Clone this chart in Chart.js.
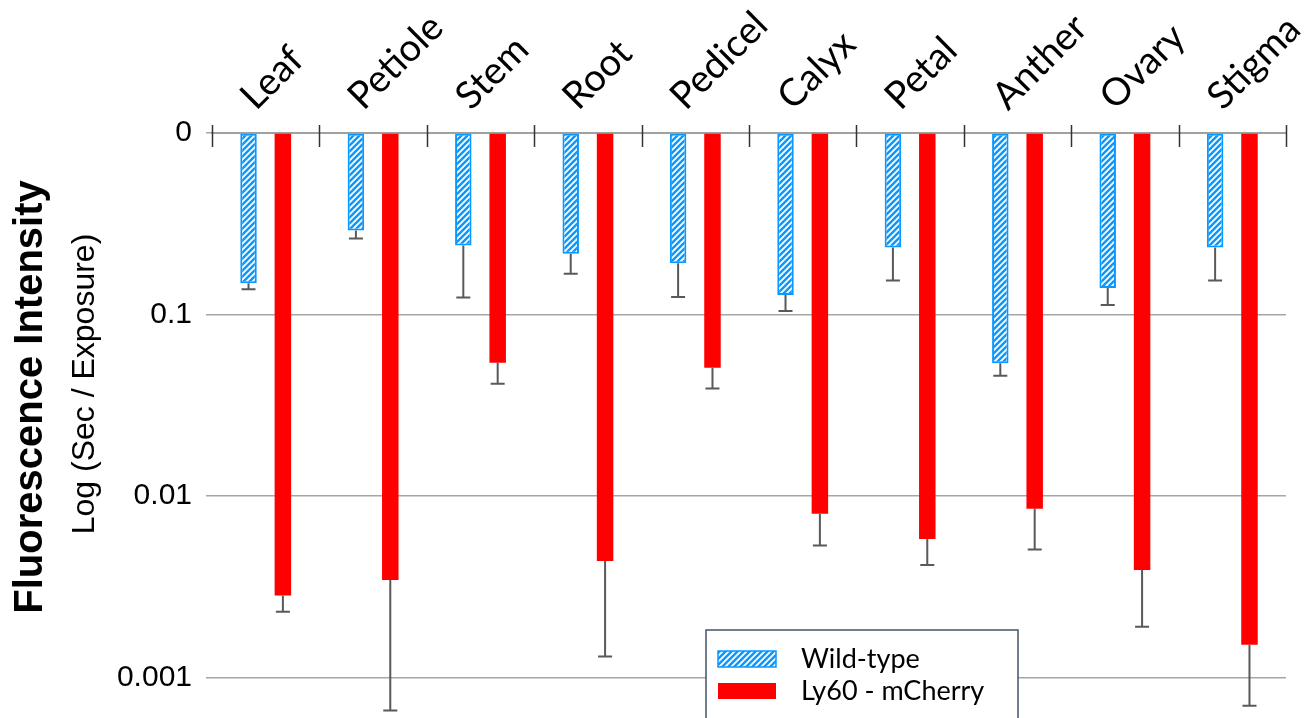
<!DOCTYPE html>
<html>
<head>
<meta charset="utf-8">
<script src="https://cdn.jsdelivr.net/npm/chart.js@4.4.0/dist/chart.umd.min.js"></script>
<style>
  html, body { margin: 0; padding: 0; background: #fff; }
</style>
</head>
<body>
<canvas id="tissue_chart" width="1311" height="718"></canvas>
<script>
// tissues, mean signal and SD (error drawn one-sided, away from the axis)
var tissues = ['Leaf', 'Petiole', 'Stem', 'Root', 'Pedicel', 'Calyx', 'Petal', 'Anther', 'Ovary', 'Stigma'];
var wildType = [0.149, 0.290, 0.240, 0.216, 0.192, 0.128, 0.234, 0.054, 0.140, 0.234];
var wildTypeErr = [0.011, 0.028, 0.116, 0.048, 0.067, 0.0235, 0.080, 0.008, 0.027, 0.080];
var mCherry = [0.00284, 0.00345, 0.0542, 0.00439, 0.0509, 0.0080, 0.00581, 0.00852, 0.00392, 0.00152];
var mCherryErr = [0.00053, 0.00279, 0.0126, 0.00308, 0.0118, 0.00266, 0.00164, 0.00344, 0.00201, 0.00082];

var tickValues = [1, 0.1, 0.01, 0.001];
var tickLabels = ['0', '0.1', '0.01', '0.001'];
var yTitle = 'Fluorescence Intensity';
var ySubTitle = 'Log (Sec / Exposure)';

var ctx = document.getElementById('tissue_chart').getContext('2d');

// blue with white diagonal stripes
function stripes(color) {
    var c = document.createElement('canvas');
    c.width = 6; c.height = 6;
    var g = c.getContext('2d');
    g.fillStyle = color;
    g.fillRect(0, 0, 6, 6);
    g.strokeStyle = '#ffffff';
    g.lineWidth = 1.8;
    g.beginPath();
    g.moveTo(0, 6); g.lineTo(6, 0);
    g.moveTo(-1, 1); g.lineTo(1, -1);
    g.moveTo(5, 7); g.lineTo(7, 5);
    g.stroke();
    return ctx.createPattern(c, 'repeat');
}

var extras = {
    id: 'extras',
    afterDatasetsDraw: function(chart) {
        var c = chart.ctx, xs = chart.scales.x, ys = chart.scales.y, area = chart.chartArea;
        c.save();

        // error bars
        c.strokeStyle = '#595959';
        c.lineWidth = 2;
        chart.data.datasets.forEach(function(ds, di) {
            chart.getDatasetMeta(di).data.forEach(function(bar, i) {
                var y0 = ys.getPixelForValue(ds.data[i]);
                var y1 = ys.getPixelForValue(ds.data[i] - ds.errors[i]);
                c.beginPath();
                c.moveTo(bar.x, y0); c.lineTo(bar.x, y1);
                c.moveTo(bar.x - 7, y1); c.lineTo(bar.x + 7, y1);
                c.stroke();
            });
        });

        // tick marks between categories, crossing the top axis
        c.strokeStyle = '#333333';
        c.lineWidth = 1.5;
        for (var k = 0; k <= tissues.length; k++) {
            var x = Math.round(xs.getPixelForValue(k - 0.5)) + 0.5;
            c.beginPath();
            c.moveTo(x, area.top - 8);
            c.lineTo(x, area.top + 14);
            c.stroke();
        }

        // legend box
        var lx = area.left + 494, ly = area.top + 497;
        c.fillStyle = '#ffffff';
        c.fillRect(lx, ly, 312, 110);
        c.strokeStyle = '#44546a';
        c.lineWidth = 1.5;
        c.strokeRect(lx, ly, 312, 110);
        chart.data.datasets.forEach(function(ds, di) {
            var sy = ly + 21 + di * 32;
            c.fillStyle = ds.backgroundColor;
            c.fillRect(lx + 12, sy, 58, 16);
            if (ds.borderWidth) {
                c.strokeStyle = ds.borderColor;
                c.lineWidth = 1.5;
                c.strokeRect(lx + 12, sy, 58, 16);
            }
            c.fillStyle = '#000000';
            c.font = '27px Lato';
            c.textBaseline = 'middle';
            c.textAlign = 'left';
            c.fillText(ds.label, lx + 95, sy + 8);
        });

        // y axis titles
        c.fillStyle = '#000000';
        c.textAlign = 'center';
        c.textBaseline = 'middle';
        c.save();
        c.translate(31, 397);
        c.rotate(-Math.PI / 2);
        c.font = 'bold 40px "Liberation Sans"';
        c.fillText(yTitle, 0, 0);
        c.restore();
        c.save();
        c.translate(85, 384);
        c.rotate(-Math.PI / 2);
        c.font = '32px "Liberation Sans"';
        c.fillText(ySubTitle, 0, 0);
        c.restore();

        c.restore();
    }
};

var chart = new Chart(ctx, {
    type: 'bar',
    data: {
        labels: tissues,
        datasets: [{
            label: 'Wild-type',
            data: wildType,
            errors: wildTypeErr,
            base: 1,
            backgroundColor: stripes('#0898ff'),
            borderColor: '#0898ff',
            borderWidth: 2,
            borderSkipped: false
        }, {
            label: 'Ly60 - mCherry',
            data: mCherry,
            errors: mCherryErr,
            base: 1,
            backgroundColor: '#ff0000',
            borderWidth: 0
        }]
    },
    options: {
        responsive: false,
        animation: false,
        categoryPercentage: 0.64,
        barPercentage: 0.48,
        layout: { padding: { left: 0, right: 25, top: 0, bottom: 0 } },
        plugins: {
            legend: { display: false },
            tooltip: { enabled: false }
        },
        scales: {
            x: {
                position: 'top',
                offset: true,
                grid: { drawOnChartArea: false, drawTicks: false },
                border: { color: '#a0a0a0', width: 2 },
                ticks: {
                    minRotation: 45,
                    maxRotation: 45,
                    padding: 14,
                    labelOffset: 14,
                    color: '#000000',
                    font: { family: 'Lato', size: 38 }
                },
                afterFit: function(s) {
                    s.height = 133;
                    s.paddingLeft = 0;
                    s.paddingRight = 0;
                }
            },
            y: {
                type: 'logarithmic',
                min: 0.00062,
                max: 1,
                afterBuildTicks: function(s) {
                    s.ticks = tickValues.map(function(v) { return { value: v }; });
                },
                ticks: {
                    callback: function(v, i) { return tickLabels[i]; },
                    padding: 14,
                    color: '#000000',
                    font: { family: 'Liberation Sans', size: 30 }
                },
                grid: { color: '#a6a6a6', lineWidth: 1.5, tickLength: 6 },
                border: { display: false },
                afterFit: function(s) {
                    s.width = 212;
                    s.paddingTop = 0;
                    s.paddingBottom = 0;
                }
            }
        }
    },
    plugins: [extras]
});
</script>
</body>
</html>
